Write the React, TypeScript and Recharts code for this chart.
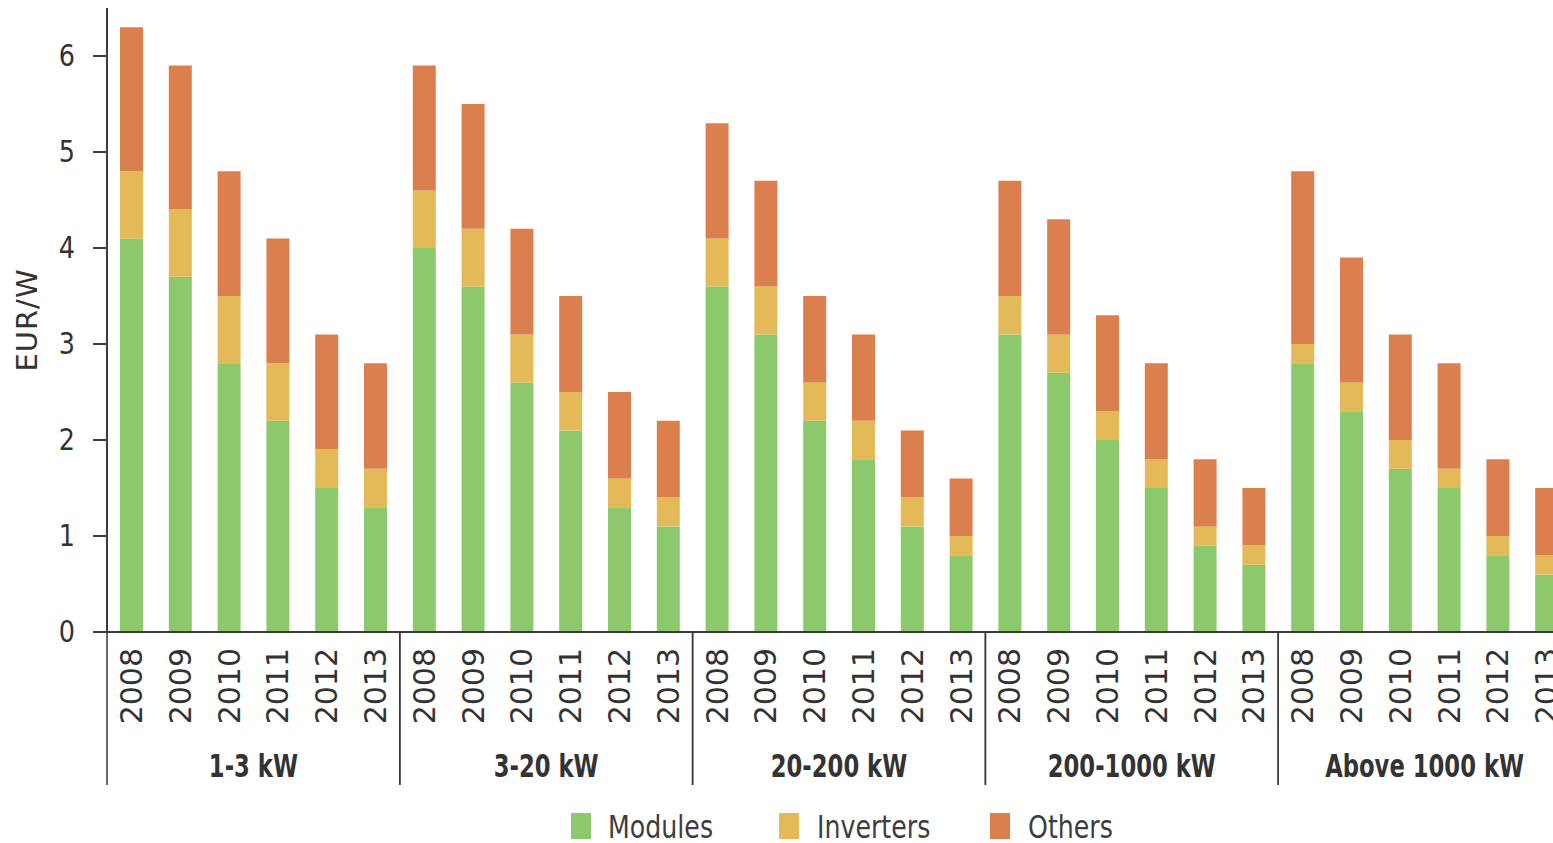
import React from 'react';
import { BarChart, Bar, XAxis, YAxis, Label } from 'recharts';

const YEARS = ['2008', '2009', '2010', '2011', '2012', '2013'];
const GROUPS = ['1-3 kW', '3-20 kW', '20-200 kW', '200-1000 kW', 'Above 1000 kW'];

// EUR/W per size class, one row per group, one value per year
const MODULES = [
  [4.1, 3.7, 2.8, 2.2, 1.5, 1.3],
  [4.0, 3.6, 2.6, 2.1, 1.3, 1.1],
  [3.6, 3.1, 2.2, 1.8, 1.1, 0.8],
  [3.1, 2.7, 2.0, 1.5, 0.9, 0.7],
  [2.8, 2.3, 1.7, 1.5, 0.8, 0.6],
];
const INVERTERS = [
  [0.7, 0.7, 0.7, 0.6, 0.4, 0.4],
  [0.6, 0.6, 0.5, 0.4, 0.3, 0.3],
  [0.5, 0.5, 0.4, 0.4, 0.3, 0.2],
  [0.4, 0.4, 0.3, 0.3, 0.2, 0.2],
  [0.2, 0.3, 0.3, 0.2, 0.2, 0.2],
];
const OTHERS = [
  [1.5, 1.5, 1.3, 1.3, 1.2, 1.1],
  [1.3, 1.3, 1.1, 1.0, 0.9, 0.8],
  [1.2, 1.1, 0.9, 0.9, 0.7, 0.6],
  [1.2, 1.2, 1.0, 1.0, 0.7, 0.6],
  [1.8, 1.3, 1.1, 1.1, 0.8, 0.7],
];
const Y_TICKS = [0, 1, 2, 3, 4, 5, 6];

const SERIES = [
  { key: 'modules', name: 'Modules', color: '#8cc96c' },
  { key: 'inverters', name: 'Inverters', color: '#e4b957' },
  { key: 'others', name: 'Others', color: '#dc7f4e' },
];

const data = GROUPS.flatMap((g, gi) =>
  YEARS.map((y, yi) => ({
    key: `${gi}|${y}`,
    modules: MODULES[gi][yi],
    inverters: INVERTERS[gi][yi],
    others: OTHERS[gi][yi],
  }))
);

const CHART_W = 1580;
const CHART_H = 843;
const PLOT_LEFT = 107;
const PLOT_RIGHT = 1571;
const BAND = (PLOT_RIGHT - PLOT_LEFT) / data.length;
const AXIS_COLOR = '#3a3a3a';
const TEXT_COLOR = '#333';
const FONT = '"DejaVu Sans", Verdana, sans-serif';

const YearTick = (props: any) => {
  const { x, y, payload } = props;
  const [gi, year] = String(payload.value).split('|');
  const yi = YEARS.indexOf(year);
  const left = x - BAND / 2;
  return (
    <g>
      <text
        transform={`translate(${x},${y + 16}) rotate(-90)`}
        textAnchor="end"
        dominantBaseline="central"
        fontFamily={FONT}
        fontSize={30}
        fill={TEXT_COLOR}
      >
        {year}
      </text>
      {yi === 0 && (
        <>
          <line x1={left} x2={left} y1={y} y2={y + 153} stroke={AXIS_COLOR} strokeWidth={1.5} />
          <text
            transform={`translate(${left + BAND * 3},${y + 145}) scale(0.71,1)`}
            textAnchor="middle"
            fontFamily={FONT}
            fontWeight="bold"
            fontSize={32}
            fill={TEXT_COLOR}
          >
            {GROUPS[Number(gi)]}
          </text>
        </>
      )}
      {yi === YEARS.length - 1 && (
        <line x1={x + BAND / 2} x2={x + BAND / 2} y1={y} y2={y + 153} stroke={AXIS_COLOR} strokeWidth={1.5} />
      )}
    </g>
  );
};

const YTick = (props: any) => {
  const { x, y, payload } = props;
  return (
    <text
      transform={`translate(${x},${y}) scale(0.85,1)`}
      textAnchor="end"
      dominantBaseline="central"
      fontFamily={FONT}
      fontSize={30}
      fill={TEXT_COLOR}
    >
      {payload.value}
    </text>
  );
};

const LEGEND_POS = [
  { x: 571, tx: 608 },
  { x: 779, tx: 817 },
  { x: 990, tx: 1028 },
];

export default function App() {
  return (
    <div style={{ position: 'fixed', top: 0, left: 0, width: 1553, height: 843, overflow: 'hidden', background: '#fff' }}>
      <BarChart
        width={CHART_W}
        height={CHART_H}
        data={data}
        margin={{ top: 8, right: CHART_W - PLOT_RIGHT, left: 0, bottom: 51 }}
      >
        <XAxis
          dataKey="key"
          interval={0}
          height={160}
          tickLine={false}
          tickSize={0}
          tickMargin={0}
          axisLine={{ stroke: AXIS_COLOR, strokeWidth: 2 }}
          tick={<YearTick />}
        />
        <YAxis
          width={PLOT_LEFT}
          domain={[0, 6.5]}
          ticks={Y_TICKS}
          tickSize={14}
          tickMargin={18}
          axisLine={{ stroke: AXIS_COLOR, strokeWidth: 2 }}
          tickLine={{ stroke: AXIS_COLOR, strokeWidth: 2 }}
          tick={<YTick />}
        >
          <Label
            content={(p: any) => {
              const vb = p.viewBox || { x: 0, y: 8, height: 624 };
              const cy = vb.y + vb.height / 2;
              return (
                <text
                  transform={`translate(27,${cy}) rotate(-90)`}
                  textAnchor="middle"
                  dominantBaseline="central"
                  fontFamily={FONT}
                  fontSize={29}
                  letterSpacing={1}
                  fill={TEXT_COLOR}
                >
                  EUR/W
                </text>
              );
            }}
          />
        </YAxis>
        {SERIES.map((s) => (
          <Bar
            key={s.key}
            dataKey={s.key}
            name={s.name}
            stackId="a"
            fill={s.color}
            barSize={23}
            isAnimationActive={false}
          />
        ))}
      </BarChart>
      <svg width={1553} height={60} style={{ position: 'absolute', left: 0, top: 790 }}>
        {LEGEND_POS.map((pos, i) => (
          <g key={SERIES[i].key}>
            <rect x={pos.x} y={23} width={20} height={26} fill={SERIES[i].color} />
            <text
              transform={`translate(${pos.tx},${48}) scale(0.79,1)`}
              fontFamily={FONT}
              fontSize={32}
              fill="#3d3d3d"
            >
              {SERIES[i].name}
            </text>
          </g>
        ))}
      </svg>
    </div>
  );
}
